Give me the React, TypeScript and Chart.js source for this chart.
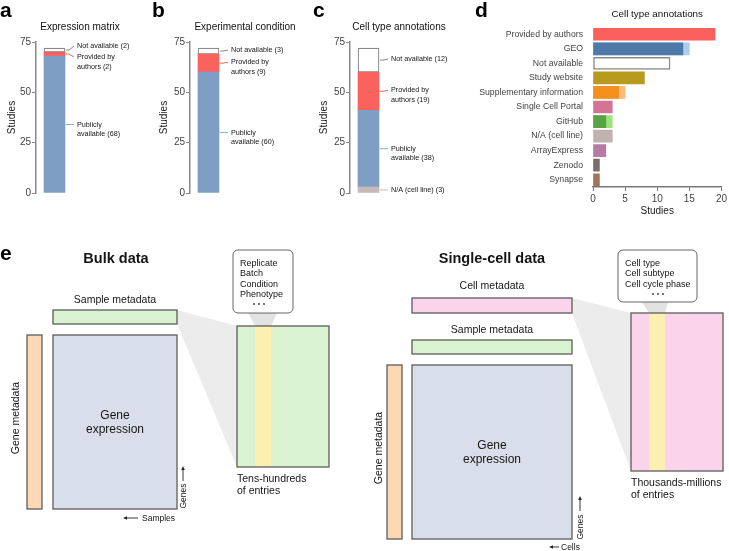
import React, { useEffect, useRef } from "react";
import { Chart, registerables } from "chart.js";

Chart.register(...registerables);

const FONT = "'Liberation Sans', Arial, Helvetica, sans-serif";
Chart.defaults.font.family = FONT;

// ---------- DATA ----------
const yTickValues = [0, 25, 50, 75];

const exprCategories = ["Publicly available", "Provided by authors", "Not available"];
const exprValues = [68, 2, 2];

const condCategories = ["Publicly available", "Provided by authors", "Not available"];
const condValues = [60, 9, 3];

const cellCategories = ["N/A (cell line)", "Publicly available", "Provided by authors", "Not available"];
const cellValues = [3, 38, 19, 12];

const sourceLabels = [
  "Provided by authors",
  "GEO",
  "Not available",
  "Study website",
  "Supplementary information",
  "Single Cell Portal",
  "GitHub",
  "N/A (cell line)",
  "ArrayExpress",
  "Zenodo",
  "Synapse",
];
const sourcePrimary = [19, 14, 12, 8, 4, 3, 2, 3, 2, 1, 1];
const sourceWithSecondary = [null, 15, null, null, 5, null, 3, null, null, null, null];
const xTickValues = [0, 5, 10, 15, 20];

// ---------- STYLES ----------
const categoryStyle: Record<string, { fill: string; line: string; border: string; bw: number }> = {
  "Publicly available": { fill: "#7f9ec4", line: "#8eaacd", border: "#7f9ec4", bw: 0 },
  "Provided by authors": { fill: "#fa635d", line: "#fa635d", border: "#fa635d", bw: 0 },
  "Not available": { fill: "#ffffff", line: "#8a8a8a", border: "#8a8a8a", bw: 1.2 },
  "N/A (cell line)": { fill: "#c8bab8", line: "#c8bab8", border: "#c8bab8", bw: 0 },
};
const wrapBreaks: Record<string, string> = {
  "Publicly available": "Publicly",
  "Provided by authors": "Provided by",
};

const sourceDark = [
  "#fa615c", "#4f79a8", "#ffffff", "#b89a1e", "#f5901e", "#d57396",
  "#57a346", "#c0b2ae", "#b57ba4", "#7b6e6c", "#a0735b",
];
const sourceLight = [
  "#fa615c", "#abcfeb", "#ffffff", "#b89a1e", "#fdbd7a", "#d57396",
  "#9ee27e", "#c0b2ae", "#b57ba4", "#7b6e6c", "#a0735b",
];

type StackProps = {
  left: number;
  width: number;
  axisWidth: number;
  titlePad: number;
  barWidth: number;
  title: string;
  titleX: number;
  categories: string[];
  values: number[];
  labelShift: number[];
};

function StackPanel(p: StackProps) {
  const ref = useRef<HTMLCanvasElement>(null);
  useEffect(() => {
    const canvas = ref.current!;
    const H = 215;
    const overlay = {
      id: "stackOverlay",
      afterDraw(chart: any) {
        const ctx = chart.ctx as CanvasRenderingContext2D;
        const ys = chart.scales.y;
        const bar = chart.getDatasetMeta(0).data[0] as any;
        const right = bar.x + bar.width / 2;
        ctx.save();
        ctx.font = `7.2px ${FONT}`;
        ctx.textBaseline = "middle";
        ctx.textAlign = "left";
        let cum = 0;
        p.values.forEach((v, i) => {
          const cat = p.categories[i];
          const mid = ys.getPixelForValue(cum + v / 2);
          cum += v;
          const ly = mid + p.labelShift[i];
          ctx.strokeStyle = categoryStyle[cat].line;
          ctx.lineWidth = 1;
          ctx.beginPath();
          ctx.moveTo(right + 1, mid);
          ctx.lineTo(right + 4, mid);
          ctx.lineTo(right + 9, ly);
          ctx.stroke();
          const brk = wrapBreaks[cat];
          const lines = brk
            ? [brk, `${cat.slice(brk.length).trim()} (${v})`]
            : [`${cat} (${v})`];
          ctx.fillStyle = "#151515";
          lines.forEach((t, k) => ctx.fillText(t, right + 12, ly + k * 9.5));
        });
        ctx.font = `10px ${FONT}`;
        ctx.textAlign = "center";
        ctx.fillStyle = "#111";
        ctx.fillText(p.title, p.titleX - p.left, 27);
        ctx.restore();
      },
    };
    // chart area right edge so the single bar sits where wanted
    const barCenterLocal = p.axisWidth + 8 + p.barWidth / 2;
    const areaRight = p.axisWidth + 2 * (barCenterLocal - p.axisWidth);
    const chart = new Chart(canvas, {
      type: "bar",
      data: {
        labels: [p.title],
        datasets: p.categories.map((c, i) => ({
          label: c,
          data: [p.values[i]],
          backgroundColor: categoryStyle[c].fill,
          borderColor: categoryStyle[c].border,
          borderWidth: categoryStyle[c].bw,
          borderSkipped: false,
          barThickness: p.barWidth,
        })),
      },
      options: {
        responsive: false,
        animation: false,
        devicePixelRatio: 1,
        layout: { padding: { top: 42, bottom: H - 193, left: 0, right: p.width - areaRight } },
        plugins: { legend: { display: false }, tooltip: { enabled: false } },
        scales: {
          x: { display: false, stacked: true },
          y: {
            stacked: true,
            min: 0,
            max: 75,
            afterBuildTicks: (s: any) => {
              s.ticks = yTickValues.map((v) => ({ value: v }));
            },
            ticks: { color: "#444", padding: 1, font: { size: 10, family: FONT } },
            grid: { drawOnChartArea: false, drawTicks: true, tickLength: 4, color: "#8a8a8a", lineWidth: 1 },
            border: { display: true, color: "#8a8a8a", width: 1.5 },
            title: {
              display: true,
              text: "Studies",
              color: "#1a1a1a",
              font: { size: 10, family: FONT },
              padding: { top: p.titlePad, bottom: 0 },
            },
            afterFit: (s: any) => {
              s.width = p.axisWidth;
            },
          },
        },
      } as any,
      plugins: [overlay],
    });
    return () => chart.destroy();
  }, []);
  return (
    <canvas
      ref={ref}
      width={p.width}
      height={215}
      style={{ position: "absolute", left: p.left, top: 0, width: p.width, height: 215 }}
    />
  );
}

function SourcePanel() {
  const ref = useRef<HTMLCanvasElement>(null);
  useEffect(() => {
    const canvas = ref.current!;
    const left = 460;
    const W = 269;
    const H = 225;
    const overlay = {
      id: "sourceTitle",
      afterDraw(chart: any) {
        const ctx = chart.ctx as CanvasRenderingContext2D;
        ctx.save();
        ctx.font = `9.8px ${FONT}`;
        ctx.textAlign = "center";
        ctx.textBaseline = "middle";
        ctx.fillStyle = "#111";
        ctx.fillText("Cell type annotations", (chart.chartArea.left + chart.chartArea.right) / 2, 14);
        ctx.restore();
      },
    };
    const chart = new Chart(canvas, {
      type: "bar",
      data: {
        labels: sourceLabels,
        datasets: [
          {
            label: "Primary",
            data: sourcePrimary,
            backgroundColor: sourceDark,
            borderColor: sourceLabels.map((l) => (l === "Not available" ? "#8a8a8a" : "rgba(0,0,0,0)")),
            borderWidth: sourceLabels.map((l) => (l === "Not available" ? 1.5 : 0)),
            borderSkipped: false,
            barThickness: 12,
            grouped: false,
            order: 0,
          },
          {
            label: "Secondary",
            data: sourceWithSecondary,
            backgroundColor: sourceLight,
            borderWidth: 0,
            barThickness: 12,
            grouped: false,
            order: 1,
          },
        ],
      },
      options: {
        indexAxis: "y",
        responsive: false,
        animation: false,
        devicePixelRatio: 1,
        layout: { padding: { top: 27, bottom: 0, left: 0, right: 6 } },
        plugins: { legend: { display: false }, tooltip: { enabled: false } },
        scales: {
          y: {
            grid: { display: false, drawTicks: false },
            border: { display: false },
            ticks: { color: "#444", padding: 10, font: { size: 8.7, family: FONT } },
            afterFit: (s: any) => {
              s.width = 593 - left;
            },
          },
          x: {
            min: 0,
            max: 20,
            afterBuildTicks: (s: any) => {
              s.ticks = xTickValues.map((v) => ({ value: v }));
            },
            grid: { drawOnChartArea: false, drawTicks: true, tickLength: 4, color: "#777", lineWidth: 1 },
            border: { display: true, color: "#777", width: 1.5 },
            ticks: { color: "#444", padding: 2, font: { size: 10, family: FONT } },
            title: {
              display: true,
              text: "Studies",
              color: "#1a1a1a",
              font: { size: 10, family: FONT },
              padding: { top: 0, bottom: 8 },
            },
            afterFit: (s: any) => {
              s.height = H - 187;
            },
          },
        },
      } as any,
      plugins: [overlay],
    });
    return () => chart.destroy();
  }, []);
  return (
    <canvas
      ref={ref}
      width={269}
      height={225}
      style={{ position: "absolute", left: 460, top: 0, width: 269, height: 225 }}
    />
  );
}

function Arrow({ x1, y1, x2, y2 }: { x1: number; y1: number; x2: number; y2: number }) {
  const dx = x2 - x1;
  const dy = y2 - y1;
  const len = Math.hypot(dx, dy);
  const ux = dx / len;
  const uy = dy / len;
  const hx = x2 - ux * 4;
  const hy = y2 - uy * 4;
  const px = -uy * 1.8;
  const py = ux * 1.8;
  return (
    <g>
      <line x1={x1} y1={y1} x2={hx} y2={hy} stroke="#222" strokeWidth={0.9} />
      <polygon points={`${x2},${y2} ${hx + px},${hy + py} ${hx - px},${hy - py}`} fill="#222" />
    </g>
  );
}

function Dots({ cx, cy }: { cx: number; cy: number }) {
  return (
    <g fill="#333">
      <circle cx={cx - 5} cy={cy} r={0.9} />
      <circle cx={cx} cy={cy} r={0.9} />
      <circle cx={cx + 5} cy={cy} r={0.9} />
    </g>
  );
}

function Schematic() {
  const stroke = "#5c5c5c";
  const sw = 1.3;
  const green = "#d9f2cf";
  const pink = "#f9d4ea";
  const blue = "#d9dfea";
  const orange = "#fcd8b5";
  const yellow = "#fcefb0";
  const txt = "#151515";
  const letters = [
    { t: "a", x: 0, y: 17 },
    { t: "b", x: 152, y: 17 },
    { t: "c", x: 313, y: 17 },
    { t: "d", x: 475, y: 17 },
    { t: "e", x: 0, y: 260 },
  ];
  return (
    <svg
      width={729}
      height={551}
      style={{ position: "absolute", left: 0, top: 0, pointerEvents: "none" }}
      fontFamily={FONT}
    >
      {letters.map((l) => (
        <text key={l.t} x={l.x} y={l.y} fontSize={21} fontWeight="bold" fill="#000">
          {l.t}
        </text>
      ))}

      {/* ---------- Bulk data ---------- */}
      <text x={116} y={258} fontSize={14.5} fontWeight="bold" textAnchor="middle" dominantBaseline="central" fill={txt}>
        Bulk data
      </text>
      <polygon points="177,310 237,326 237,467 177,324" fill="#ececec" />
      <polygon points="248,313 277,313 271,326 255,326" fill="#e2e2e2" />
      <rect x={233} y={250} width={60} height={63} rx={5} fill="#fff" stroke="#666" strokeWidth={1} />
      {["Replicate", "Batch", "Condition", "Phenotype"].map((t, i) => (
        <text key={t} x={240} y={263 + i * 10.4} fontSize={9} dominantBaseline="central" fill={txt}>
          {t}
        </text>
      ))}
      <Dots cx={259} cy={304} />
      <text x={115} y={299} fontSize={10.5} textAnchor="middle" dominantBaseline="central" fill={txt}>
        Sample metadata
      </text>
      <rect x={53} y={310} width={124} height={14} fill={green} stroke={stroke} strokeWidth={sw} />
      <rect x={27} y={335} width={15} height={174} fill={orange} stroke={stroke} strokeWidth={sw} />
      <rect x={53} y={335} width={124} height={174} fill={blue} stroke={stroke} strokeWidth={sw} />
      <text x={115} y={415} fontSize={12} textAnchor="middle" dominantBaseline="central" fill={txt}>
        Gene
      </text>
      <text x={115} y={429} fontSize={12} textAnchor="middle" dominantBaseline="central" fill={txt}>
        expression
      </text>
      <text
        x={15}
        y={418}
        fontSize={10.5}
        textAnchor="middle"
        dominantBaseline="central"
        transform="rotate(-90 15 418)"
        fill={txt}
      >
        Gene metadata
      </text>
      <Arrow x1={183} y1={481} x2={183} y2={466} />
      <text x={183} y={496} fontSize={8.5} textAnchor="middle" dominantBaseline="central" transform="rotate(-90 183 496)" fill={txt}>
        Genes
      </text>
      <Arrow x1={138} y1={518} x2={123} y2={518} />
      <text x={142} y={518} fontSize={8.5} dominantBaseline="central" fill={txt}>
        Samples
      </text>
      <rect x={237} y={326} width={92} height={141} fill={green} />
      <rect x={255} y={326} width={16} height={141} fill={yellow} />
      <rect x={237} y={326} width={92} height={141} fill="none" stroke={stroke} strokeWidth={sw} />
      <text x={237} y={478} fontSize={10.5} dominantBaseline="central" fill={txt}>
        Tens-hundreds
      </text>
      <text x={237} y={490} fontSize={10.5} dominantBaseline="central" fill={txt}>
        of entries
      </text>

      {/* ---------- Single-cell data ---------- */}
      <text x={492} y={258} fontSize={14.5} fontWeight="bold" textAnchor="middle" dominantBaseline="central" fill={txt}>
        Single-cell data
      </text>
      <polygon points="572,298 631,313 631,471 572,313" fill="#ececec" />
      <polygon points="642,302 668,302 665,313 649,313" fill="#e2e2e2" />
      <rect x={618} y={250} width={79} height={52} rx={5} fill="#fff" stroke="#666" strokeWidth={1} />
      {["Cell type", "Cell subtype", "Cell cycle phase"].map((t, i) => (
        <text key={t} x={625} y={263 + i * 10.4} fontSize={9} dominantBaseline="central" fill={txt}>
          {t}
        </text>
      ))}
      <Dots cx={658} cy={294} />
      <text x={492} y={285} fontSize={10.5} textAnchor="middle" dominantBaseline="central" fill={txt}>
        Cell metadata
      </text>
      <rect x={412} y={298} width={160} height={15} fill={pink} stroke={stroke} strokeWidth={sw} />
      <text x={492} y={329} fontSize={10.5} textAnchor="middle" dominantBaseline="central" fill={txt}>
        Sample metadata
      </text>
      <rect x={412} y={340} width={160} height={14} fill={green} stroke={stroke} strokeWidth={sw} />
      <rect x={387} y={365} width={15} height={174} fill={orange} stroke={stroke} strokeWidth={sw} />
      <rect x={412} y={365} width={160} height={174} fill={blue} stroke={stroke} strokeWidth={sw} />
      <text x={492} y={445} fontSize={12} textAnchor="middle" dominantBaseline="central" fill={txt}>
        Gene
      </text>
      <text x={492} y={459} fontSize={12} textAnchor="middle" dominantBaseline="central" fill={txt}>
        expression
      </text>
      <text
        x={378}
        y={448}
        fontSize={10.5}
        textAnchor="middle"
        dominantBaseline="central"
        transform="rotate(-90 378 448)"
        fill={txt}
      >
        Gene metadata
      </text>
      <Arrow x1={580} y1={511} x2={580} y2={496} />
      <text x={580} y={527} fontSize={8.5} textAnchor="middle" dominantBaseline="central" transform="rotate(-90 580 527)" fill={txt}>
        Genes
      </text>
      <Arrow x1={559} y1={547} x2={549} y2={547} />
      <text x={561} y={547} fontSize={8.5} dominantBaseline="central" fill={txt}>
        Cells
      </text>
      <rect x={631} y={313} width={92} height={158} fill={pink} />
      <rect x={649} y={313} width={16} height={158} fill={yellow} />
      <rect x={631} y={313} width={92} height={158} fill="none" stroke={stroke} strokeWidth={sw} />
      <text x={631} y={482} fontSize={10.5} dominantBaseline="central" fill={txt}>
        Thousands-millions
      </text>
      <text x={631} y={494} fontSize={10.5} dominantBaseline="central" fill={txt}>
        of entries
      </text>
    </svg>
  );
}

export default function App() {
  return (
    <div
      style={{
        position: "absolute",
        left: 0,
        top: 0,
        width: 729,
        height: 551,
        background: "#fff",
        overflow: "hidden",
      }}
    >
      <StackPanel
        left={0}
        width={150}
        axisWidth={36}
        titlePad={6}
        barWidth={21}
        title="Expression matrix"
        titleX={80}
        categories={exprCategories}
        values={exprValues}
        labelShift={[0, 3, -4]}
      />
      <StackPanel
        left={150}
        width={160}
        axisWidth={40}
        titlePad={8}
        barWidth={21}
        title="Experimental condition"
        titleX={245}
        categories={condCategories}
        values={condValues}
        labelShift={[0, -1, -1]}
      />
      <StackPanel
        left={310}
        width={150}
        axisWidth={40}
        titlePad={8}
        barWidth={21}
        title="Cell type annotations"
        titleX={399}
        categories={cellCategories}
        values={cellValues}
        labelShift={[0, 0, -1, -1]}
      />
      <SourcePanel />
      <Schematic />
    </div>
  );
}
